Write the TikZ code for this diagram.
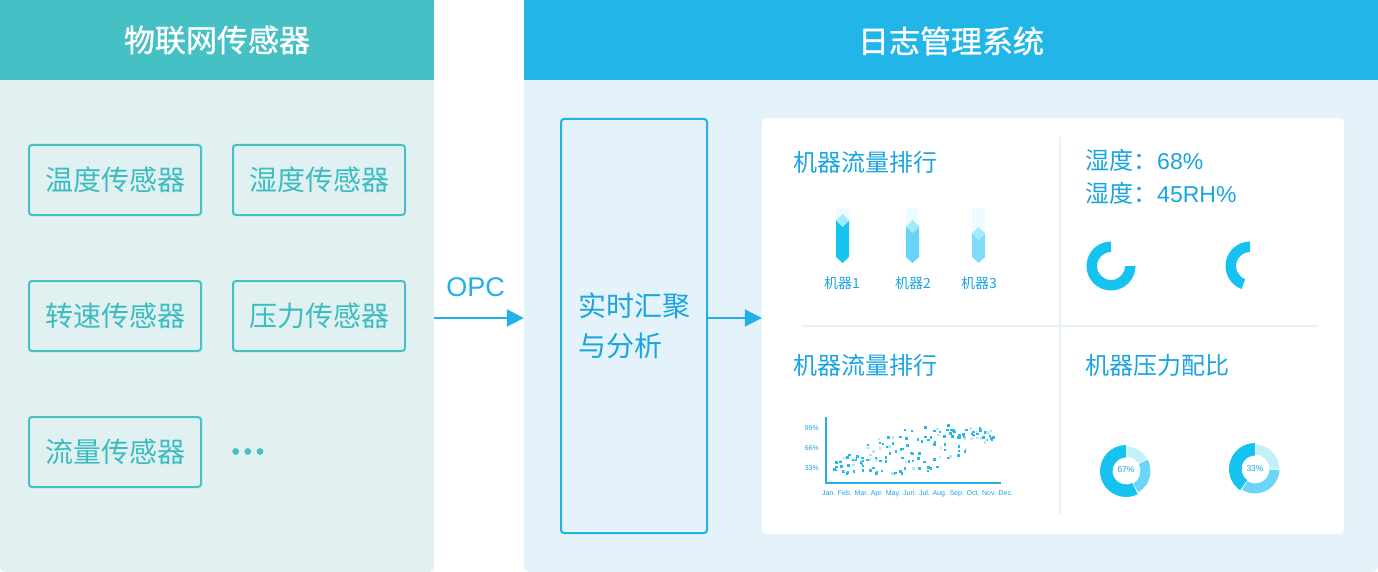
\documentclass[tikz,border=0pt]{standalone}
\usepackage{fontspec}
\usepackage{graphicx}
\setmainfont{Noto Sans CJK SC}
\newfontfamily\lat{Liberation Sans}
\newfontfamily\headfont{Noto Sans CJK SC}[FakeBold=1]
\usetikzlibrary{arrows.meta}
\definecolor{tealhead}{HTML}{45C0C4}
\definecolor{tealbody}{HTML}{E1F1F2}
\definecolor{tealtext}{HTML}{3BBCC0}
\definecolor{bluehead}{HTML}{21B5E8}
\definecolor{bluebody}{HTML}{E4F2F9}
\definecolor{bluetext}{HTML}{1AA5E0}
\definecolor{blueline}{HTML}{22B0E6}
\definecolor{ghost}{HTML}{EEFCFF}
\definecolor{capc}{HTML}{A3EAFA}
\definecolor{barA}{HTML}{14C3EF}
\definecolor{barB}{HTML}{66D4F6}
\definecolor{barC}{HTML}{80DCF9}
\definecolor{ringdark}{HTML}{16C2EF}
\definecolor{ringmid}{HTML}{6AD5F6}
\definecolor{ringlight}{HTML}{C4F0FC}
\definecolor{dotdark}{HTML}{29B9E9}
\definecolor{dotlight}{HTML}{B5E7F7}
\newcommand\ringseg[5]{\fill[#5] (#1:#3) arc[start angle=#1,end angle=#2,radius=#3] -- (#2:#4) arc[start angle=#2,end angle=#1,radius=#4] -- cycle;}
\newcommand\crystal[4]{%
  \fill[ghost] (#1-6.5,208) -- (#1+6.5,208) -- (#1+6.5,#2+6.5) -- (#1,#2) -- (#1-6.5,#2+6.5) -- cycle;
  \fill[#3] (#1-6.5,#2+6.5) -- (#1,#2+13) -- (#1+6.5,#2+6.5) -- (#1+6.5,257) -- (#1,263) -- (#1-6.5,257) -- cycle;
  \fill[#4] (#1,#2) -- (#1+6.5,#2+6.5) -- (#1,#2+13) -- (#1-6.5,#2+6.5) -- cycle;}
\begin{document}
\begin{tikzpicture}[x=1pt,y=-1pt,
  sensor/.style={draw=tealhead, line width=2pt, rounded corners=3pt, minimum width=172pt, minimum height=70pt, inner sep=0pt, text=tealtext, font=\fontsize{28}{32}\selectfont},
  headtext/.style={text=white, font=\headfont\fontsize{31}{36}\selectfont, inner sep=0pt},
  flow/.style={draw=blueline, line width=2pt, -{Triangle[length=17pt,width=17pt]}},
  charttitle/.style={text=bluetext, font=\fontsize{24}{28}\selectfont, inner sep=0pt, anchor=west},
  mlabel/.style={text=bluetext, font=\fontsize{14}{16}\selectfont, inner sep=0pt},
  tiny/.style={text=bluetext, font=\lat\fontsize{7}{8}\selectfont, inner sep=0pt},
  divider/.style={draw=bluebody, line width=2pt}]
\useasboundingbox (0,0) rectangle (1378,572);
% panels
\node[fill=tealbody, rounded corners=5pt, minimum width=434pt, minimum height=572pt, inner sep=0pt] (leftbody) at (217,286) {};
\fill[tealhead] (0,0) rectangle (434,80);
\node[headtext] (lefthead) at (217,40) {物联网传感器};
\node[fill=bluebody, rounded corners=5pt, minimum width=854pt, minimum height=572pt, inner sep=0pt] (rightbody) at (951,286) {};
\fill[bluehead] (524,0) rectangle (1378,80);
\node[headtext] (righthead) at (951,41) {日志管理系统};
% sensors
\node[sensor] (s1) at (115,180) {温度传感器};
\node[sensor] (s2) at (319,180) {湿度传感器};
\node[sensor] (s3) at (115,316) {转速传感器};
\node[sensor] (s4) at (319,316) {压力传感器};
\node[sensor] (s5) at (115,452) {流量传感器};
\foreach \dx in {235.7,247.8,260}{\fill[tealhead] (\dx,451.5) circle (3.4);}
% aggregation box
\node[draw=blueline, line width=2pt, rounded corners=3pt, minimum width=146pt, minimum height=414pt, inner sep=0pt, text=bluetext, align=left, font=\fontsize{28}{40}\selectfont] (agg) at (634,326) {实时汇聚\\与分析};
% board
\node[fill=white, rounded corners=4pt, minimum width=582pt, minimum height=416pt, inner sep=0pt] (board) at (1053,326) {};
% arrows
\coordinate (ay) at (0,318);
\draw[flow] (leftbody.east |- ay) -- (rightbody.west |- ay);
\node[text=blueline, font=\lat\fontsize{27}{30}\selectfont, inner sep=0pt] (opc) at (475.5,287) {OPC};
\draw[flow] (agg.east |- ay) -- (board.west |- ay);
% dividers
\draw[divider] (1060,137) -- (1060,514);
\draw[divider] (802,326) -- (1318,326);
% titles
\node[charttitle] (t1) at (793,162) {机器流量排行};
\node[charttitle] (t2) at (793,365) {机器流量排行};
\node[charttitle] (t3) at (1085,365) {机器压力配比};
\node[charttitle] (h1) at (1085,160) {湿度：{\lat\fontsize{23}{26}\selectfont 68\%}};
\node[charttitle] (h2) at (1085,193) {湿度：{\lat\fontsize{23}{26}\selectfont 45RH\%}};
% bars
\crystal{842.5}{214}{barA}{capc}
\crystal{912.5}{220}{barB}{capc}
\crystal{978.6}{227}{barC}{capc}
\node[mlabel] (m1) at (842,283) {机器1};
\node[mlabel] (m2) at (913,283) {机器2};
\node[mlabel] (m3) at (979,283) {机器3};
% top rings
\begin{scope}[shift={(1111,266)}, yscale=-1]
\ringseg{90}{360}{24.5}{14}{ringdark}
\end{scope}
\begin{scope}[shift={(1250,266)}, yscale=-1]
\ringseg{90}{250}{24.5}{14}{ringdark}
\end{scope}
% scatter
\draw[blueline, line width=1.5pt] (826,417) -- (826,483) -- (1001,483);
\node[tiny, anchor=east] (y1) at (819,428) {99\%};
\node[tiny, anchor=east] (y2) at (819,448) {66\%};
\node[tiny, anchor=east] (y3) at (819,468) {33\%};
\node[tiny] (xl) at (917.5,494) {\resizebox{191pt}{!}{Jan. Feb. Mar. Apr. May. Jun. Jul. Aug. Sep. Oct. Nov. Dec.}};
\pgfmathsetseed{311}
\foreach \j in {0,...,24}{
  \foreach \k in {1,...,6}{
    \pgfmathsetmacro\tq{\j/24}
    \pgfmathsetmacro\px{835+155*\tq+(2*rnd-1)*2.5}
    \pgfmathsetmacro\spr{5+19*sin(180*\tq)}
    \pgfmathsetmacro\py{max(424,min(472,465-31*\tq+(2*rnd-1)*\spr))}
    \pgfmathtruncatemacro\cc{rnd<0.7 ? 1 : 0}
    \ifnum\cc=1
      \fill[dotdark] (\px,\py) rectangle ++(2.5,2.5);
    \else
      \fill[dotlight] (\px,\py) rectangle ++(2.5,2.5);
    \fi
  }
}
% bottom rings
\begin{scope}[shift={(1126,471)}, yscale=-1]
\ringseg{90}{297}{26}{13.5}{ringdark}
\ringseg{300}{388}{24.5}{14.5}{ringmid}
\ringseg{391}{448}{24.5}{14.5}{ringlight}
\end{scope}
\node[tiny, font=\lat\fontsize{8.5}{9}\selectfont] (p1) at (1126,470) {67\%};
\begin{scope}[shift={(1255,469)}, yscale=-1]
\ringseg{90}{235}{26}{13.5}{ringdark}
\ringseg{238}{358}{24.5}{14.5}{ringmid}
\ringseg{361}{448}{24.5}{14.5}{ringlight}
\end{scope}
\node[tiny, font=\lat\fontsize{8.5}{9}\selectfont] (p2) at (1255,469) {33\%};
\end{tikzpicture}
\end{document}
